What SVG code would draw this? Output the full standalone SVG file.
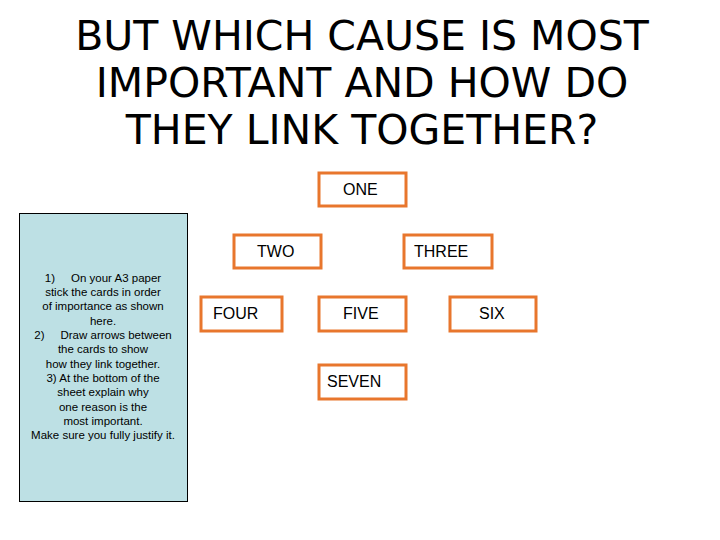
<svg xmlns="http://www.w3.org/2000/svg" width="720" height="540" viewBox="0 0 720 540">
<style>
.card{fill:#fff;stroke:#E8762D;stroke-width:3}
.ct{font-family:"Liberation Sans",Arial,sans-serif;font-size:16px;fill:#000}
.title{font-family:"DejaVu Sans",sans-serif;font-size:41px;fill:#000;text-anchor:middle}
.inst{font-family:"Liberation Sans",Arial,sans-serif;font-size:11.5px;fill:#000;text-anchor:middle}
</style>
<rect width="720" height="540" fill="#fff"/>
<g id="title">
<text class="title" x="362" y="50">BUT WHICH CAUSE IS MOST</text>
<text class="title" x="362" y="97">IMPORTANT AND HOW DO</text>
<text class="title" x="362" y="144">THEY LINK TOGETHER?</text>
</g>
<g id="instructions">
<rect x="19.5" y="213.5" width="168" height="288" fill="#BDE0E4" stroke="#000" stroke-width="1"/>
<text class="inst" xml:space="preserve"><tspan x="103" y="282">1)     On your A3 paper</tspan><tspan x="103" y="296">stick the cards in order</tspan><tspan x="103" y="310">of importance as shown</tspan><tspan x="103" y="325">here.</tspan><tspan x="103" y="339">2)     Draw arrows between</tspan><tspan x="103" y="353">the cards to show</tspan><tspan x="103" y="368">how they link together.</tspan><tspan x="103" y="382">3) At the bottom of the</tspan><tspan x="103" y="396">sheet explain why</tspan><tspan x="103" y="411">one reason is the</tspan><tspan x="103" y="425">most important.</tspan><tspan x="103" y="439">Make sure you fully justify it.</tspan></text>
</g>
<g id="one"><rect class="card" x="319" y="173" width="87" height="33"/><text class="ct" x="343" y="195">ONE</text></g>
<g id="two"><rect class="card" x="234" y="235" width="87" height="33"/><text class="ct" x="257" y="257">TWO</text></g>
<g id="three"><rect class="card" x="404" y="235" width="88" height="33"/><text class="ct" x="414" y="257">THREE</text></g>
<g id="four"><rect class="card" x="201" y="297" width="81" height="34"/><text class="ct" x="213" y="319">FOUR</text></g>
<g id="five"><rect class="card" x="319" y="297" width="87" height="34"/><text class="ct" x="343" y="319">FIVE</text></g>
<g id="six"><rect class="card" x="450" y="297" width="86" height="34"/><text class="ct" x="479" y="319">SIX</text></g>
<g id="seven"><rect class="card" x="319" y="365" width="87" height="34"/><text class="ct" x="327" y="387">SEVEN</text></g>
<g id="connectors"/>
</svg>
